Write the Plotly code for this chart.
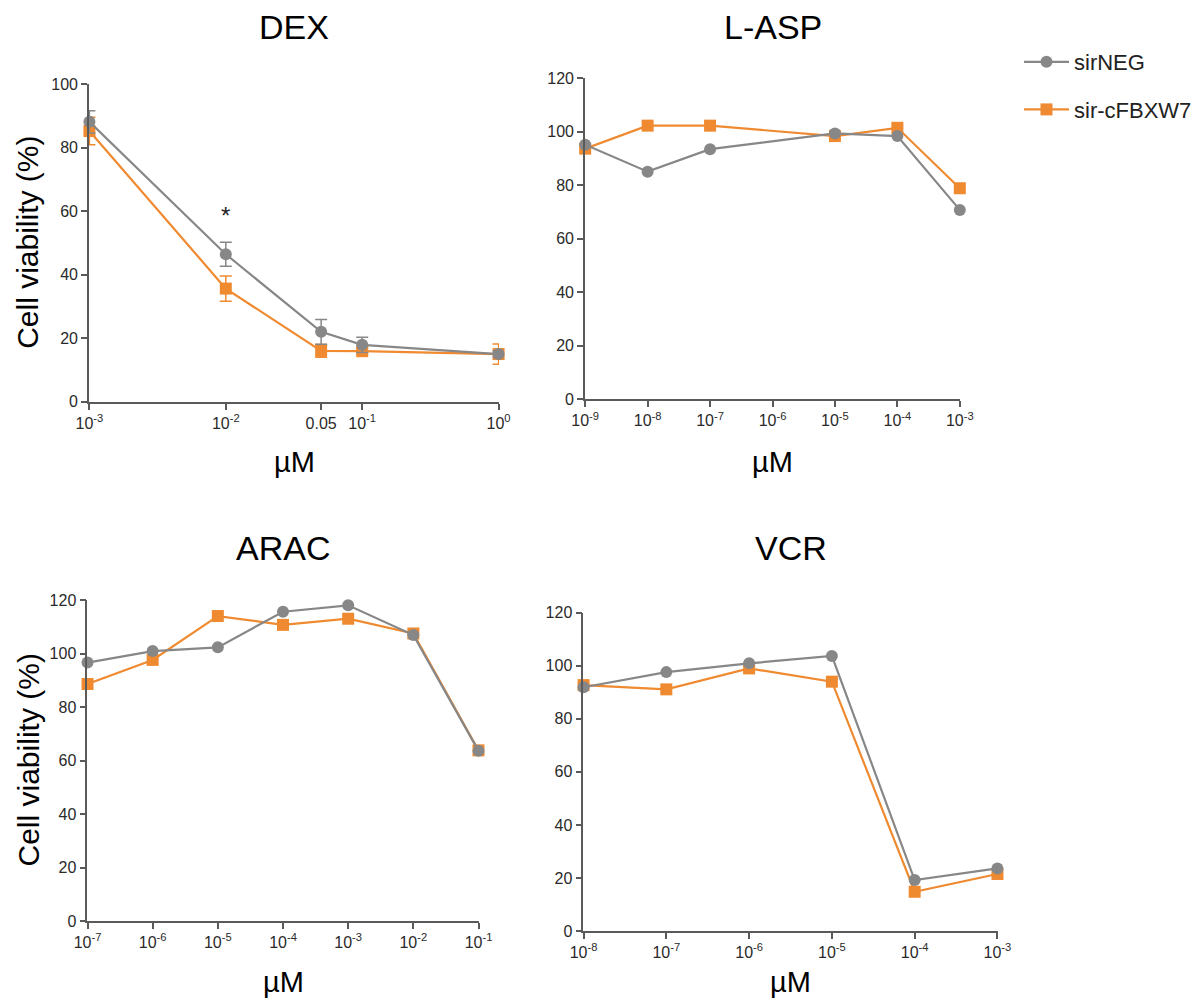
import math
import plotly.graph_objects as go

# ---------------- data ----------------
DEX_x = [0.001, 0.01, 0.05, 0.1, 1]
DEX_neg = [88.1, 46.4, 22.0, 17.9, 15.0]
DEX_neg_err = [3.5, 3.8, 3.9, 2.4, 1.0]
DEX_fb = [85.2, 35.6, 16.0, 15.9, 15.0]
DEX_fb_err = [4.3, 4.0, 2.0, 1.0, 3.2]
DEX_ticks = [0.001, 0.01, 0.05, 0.1, 1]
DEX_ticktext = ["10<sup>-3</sup>", "10<sup>-2</sup>", "0.05", "10<sup>-1</sup>", "10<sup>0</sup>"]

LASP_x = [1e-9, 1e-8, 1e-7, 1e-5, 1e-4, 1e-3]
LASP_neg = [95.2, 85.1, 93.5, 99.4, 98.4, 70.8]
LASP_fb = [93.7, 102.3, 102.3, 98.4, 101.5, 78.9]
LASP_ticks = [1e-9, 1e-8, 1e-7, 1e-6, 1e-5, 1e-4, 1e-3]

ARAC_x = [1e-7, 1e-6, 1e-5, 1e-4, 1e-3, 1e-2, 1e-1]
ARAC_neg = [96.6, 100.9, 102.3, 115.6, 118.0, 106.9, 63.6]
ARAC_fb = [88.6, 97.6, 114.0, 110.7, 113.0, 107.5, 63.8]
ARAC_ticks = [1e-7, 1e-6, 1e-5, 1e-4, 1e-3, 1e-2, 1e-1]

VCR_x = [1e-8, 1e-7, 1e-6, 1e-5, 1e-4, 1e-3]
VCR_neg = [91.9, 97.6, 100.9, 103.7, 19.2, 23.6]
VCR_fb = [92.7, 91.1, 99.0, 94.0, 14.8, 21.5]
VCR_ticks = [1e-8, 1e-7, 1e-6, 1e-5, 1e-4, 1e-3]

SERIES = ["sirNEG", "sir-cFBXW7"]
TITLES = ["DEX", "L-ASP", "ARAC", "VCR"]

GRAY = "#878787"
ORANGE = "#EF8A30"
W, H = 1203, 1006
PAD = 0.003  # tiny range padding so edge markers are not dropped


def px_x(p):
    return p / W


def px_y(p):
    return 1 - p / H


def logtext(vals):
    return ["10<sup>%d</sup>" % int(round(math.log10(v))) for v in vals]


panels = [
    dict(x=DEX_x, neg=DEX_neg, fb=DEX_fb, neg_err=DEX_neg_err, fb_err=DEX_fb_err,
         ticks=DEX_ticks, ticktext=DEX_ticktext, xr=[-3, 0], yr=[0, 100], ydt=20,
         dx=[89, 499], dy=[401.7, 84], ty=27, xty=462),
    dict(x=LASP_x, neg=LASP_neg, fb=LASP_fb, neg_err=None, fb_err=None,
         ticks=LASP_ticks, ticktext=logtext(LASP_ticks), xr=[-9, -3], yr=[0, 120], ydt=20,
         dx=[585, 960], dy=[399.3, 78.3], ty=27, xty=462),
    dict(x=ARAC_x, neg=ARAC_neg, fb=ARAC_fb, neg_err=None, fb_err=None,
         ticks=ARAC_ticks, ticktext=logtext(ARAC_ticks), xr=[-7, -1], yr=[0, 120], ydt=20,
         dx=[87.3, 478.7], dy=[921, 600], ty=548, xty=982),
    dict(x=VCR_x, neg=VCR_neg, fb=VCR_fb, neg_err=None, fb_err=None,
         ticks=VCR_ticks, ticktext=logtext(VCR_ticks), xr=[-8, -3], yr=[0, 120], ydt=20,
         dx=[583.3, 997.7], dy=[931, 612.7], ty=548, xty=982),
]

fig = go.Figure()
TICKFONT = dict(family="Liberation Sans Narrow, Arial Narrow, Liberation Sans, Arial", size=16, color="#2a2a2a")
layout = {}
annotations = []

for i, p in enumerate(panels):
    n = "" if i == 0 else str(i + 1)
    xa, ya = "x" + n, "y" + n
    fb_kw = {}
    neg_kw = {}
    if p["fb_err"] is not None:
        fb_kw["error_y"] = dict(type="data", array=p["fb_err"], color=ORANGE, thickness=1.5, width=6)
        neg_kw["error_y"] = dict(type="data", array=p["neg_err"], color=GRAY, thickness=1.5, width=6)
    # orange first so gray sits on top
    fig.add_trace(go.Scatter(
        x=p["x"], y=p["fb"], mode="lines+markers", name=SERIES[1],
        line=dict(color=ORANGE, width=2.2),
        marker=dict(symbol="square", size=12, color=ORANGE),
        xaxis=xa, yaxis=ya, cliponaxis=False, showlegend=(i == 0),
        legendgroup="fb", legendrank=2, **fb_kw))
    fig.add_trace(go.Scatter(
        x=p["x"], y=p["neg"], mode="lines+markers", name=SERIES[0],
        line=dict(color=GRAY, width=2.2),
        marker=dict(symbol="circle", size=12, color=GRAY),
        xaxis=xa, yaxis=ya, cliponaxis=False, showlegend=(i == 0),
        legendgroup="neg", legendrank=1, **neg_kw))

    axcommon = dict(showgrid=False, zeroline=False, showline=True, linecolor="#5a5a5a",
                    linewidth=1.6, ticks="outside", ticklen=6, tickwidth=1.6,
                    tickcolor="#5a5a5a", tickfont=TICKFONT, fixedrange=True, automargin=False)
    layout["xaxis" + n] = dict(type="log", range=[p["xr"][0] - PAD, p["xr"][1] + PAD],
                               tickvals=p["ticks"], ticktext=p["ticktext"],
                               domain=[px_x(p["dx"][0]), px_x(p["dx"][1])], anchor=ya, **axcommon)
    layout["yaxis" + n] = dict(range=p["yr"], dtick=p["ydt"], tick0=0,
                               domain=[px_y(p["dy"][0]), px_y(p["dy"][1])], anchor=xa, **axcommon)

    cx = (p["dx"][0] + p["dx"][1]) / 2
    annotations.append(dict(text=TITLES[i], xref="paper", yref="paper",
                            x=px_x(cx), y=px_y(p["ty"]), showarrow=False,
                            font=dict(family="Liberation Sans, Arial", size=34, color="black"),
                            xanchor="center", yanchor="middle"))
    annotations.append(dict(text="µM", xref="paper", yref="paper",
                            x=px_x(cx), y=px_y(p["xty"]), showarrow=False,
                            font=dict(family="Liberation Sans, Arial", size=29, color="black"),
                            xanchor="center", yanchor="middle"))

for p in (panels[0], panels[2]):
    cy = (p["dy"][0] + p["dy"][1]) / 2
    annotations.append(dict(text="Cell viability (%)", xref="paper", yref="paper",
                            x=px_x(28), y=px_y(cy), showarrow=False, textangle=-90,
                            font=dict(family="Liberation Sans, Arial", size=30, color="black"),
                            xanchor="center", yanchor="middle"))

annotations.append(dict(text="*", xref="x", yref="y", x=-2, y=58.5, showarrow=False,
                        font=dict(family="Liberation Sans, Arial", size=24, color="#222"),
                        xanchor="center", yanchor="middle"))

fig.update_layout(
    width=W, height=H, margin=dict(l=0, r=0, t=0, b=0, autoexpand=False),
    paper_bgcolor="white", plot_bgcolor="white",
    annotations=annotations,
    legend=dict(x=px_x(1019), y=px_y(41), xanchor="left", yanchor="top",
                font=dict(family="Liberation Sans, Arial", size=22, color="#222"),
                traceorder="grouped", tracegroupgap=16, itemwidth=45,
                bgcolor="rgba(0,0,0,0)"),
    **layout,
)

fig.write_html("out.html")
